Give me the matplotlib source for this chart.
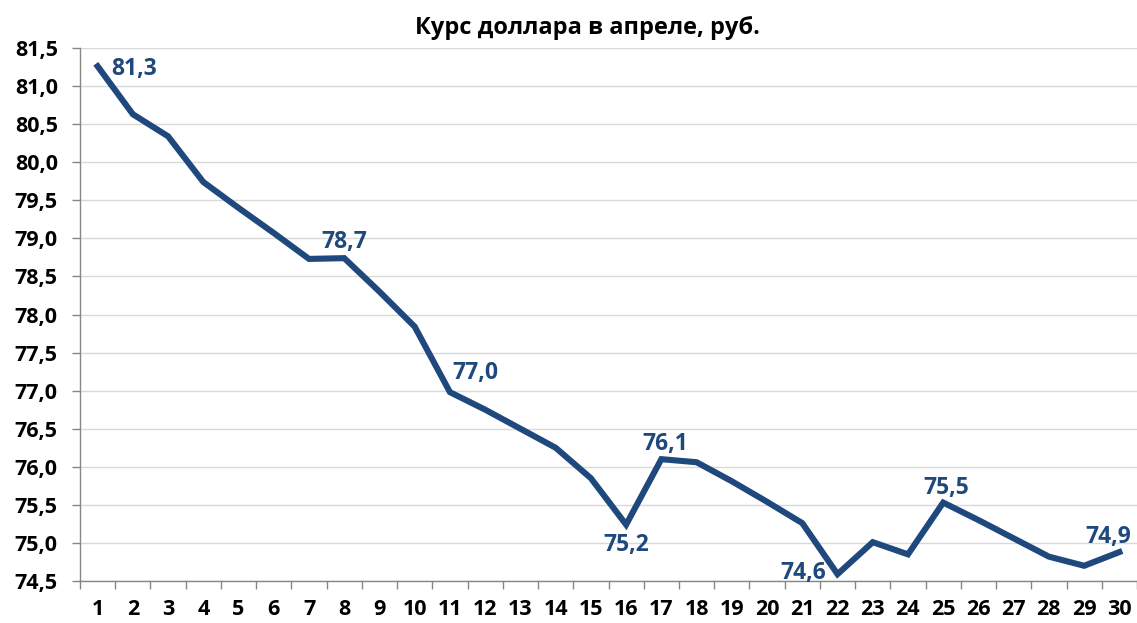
import numpy as np
import matplotlib.pyplot as plt
from matplotlib.ticker import MultipleLocator, FuncFormatter

# days of April and the USD/RUB rate
days = list(range(1, 31))
rate = [81.26, 80.63, 80.34, 79.74, 79.40, 79.07, 78.73, 78.74, 78.30, 77.84,
        76.98, 76.75, 76.50, 76.25, 75.85, 75.24, 76.10, 76.06, 75.81, 75.54,
        75.26, 74.59, 75.01, 74.85, 75.53, 75.30, 75.06, 74.82, 74.70, 74.88]

# which days get a value label and where it goes (dx, dy in points, ha, va)
label_days = [1, 8, 11, 16, 17, 22, 25, 30]
label_pos = {1: (10, -2, 'left', 'center'),
             8: (0, 3, 'center', 'bottom'),
             11: (2, 5, 'left', 'bottom'),
             16: (0, -6, 'center', 'top'),
             17: (3, 2, 'center', 'bottom'),
             22: (-8, 1, 'right', 'center'),
             25: (2, 2, 'center', 'bottom'),
             30: (-8, 2, 'center', 'bottom')}

plt.rcParams['font.family'] = ['Open Sans', 'DejaVu Sans']
plt.rcParams['font.weight'] = 'bold'

line_color = '#1F497D'
axis_color = '#868686'

fig = plt.figure(figsize=(11.37, 6.23), dpi=100)
ax = fig.add_axes([80 / 1137, 42 / 623, 1057 / 1137, 533 / 623])

ax.plot(days, rate, color=line_color, linewidth=4.4, solid_joinstyle='miter', zorder=3)

for d in label_days:
    v = rate[d - 1]
    dx, dy, ha, va = label_pos[d]
    ax.annotate(f'{v:.1f}'.replace('.', ','), (d, v), xytext=(dx, dy),
                textcoords='offset points', ha=ha, va=va,
                fontsize=16.5, fontweight='bold', color=line_color)

ax.set_xlim(0.5, 0.5 + 1057 / 35.33)
ax.set_ylim(74.5, 81.5)
ax.yaxis.set_major_locator(MultipleLocator(0.5))
ax.yaxis.set_major_formatter(FuncFormatter(lambda v, p: f'{v:.1f}'.replace('.', ',')))
ax.set_xticks(days)
ax.set_xticks(np.arange(0.5, 31, 1), minor=True)
ax.tick_params(axis='x', which='major', length=0, pad=13, labelsize=15.5)
ax.tick_params(axis='x', which='minor', length=6, color=axis_color, width=1)
ax.tick_params(axis='y', length=6, color=axis_color, width=1, pad=10, labelsize=15.5)
for lab in ax.get_xticklabels() + ax.get_yticklabels():
    lab.set_fontweight('bold')

ax.grid(axis='y', color='#D9D9D9', linewidth=1)
ax.set_axisbelow(True)
for s in ['top', 'right']:
    ax.spines[s].set_visible(False)
for s in ['left', 'bottom']:
    ax.spines[s].set_color(axis_color)
    ax.spines[s].set_linewidth(1)

fig.text(0.517, 0.955, 'Курс доллара в апреле, руб.', ha='center', va='center',
         fontsize=17, fontweight='bold')

fig.savefig('out.png', dpi=100)
